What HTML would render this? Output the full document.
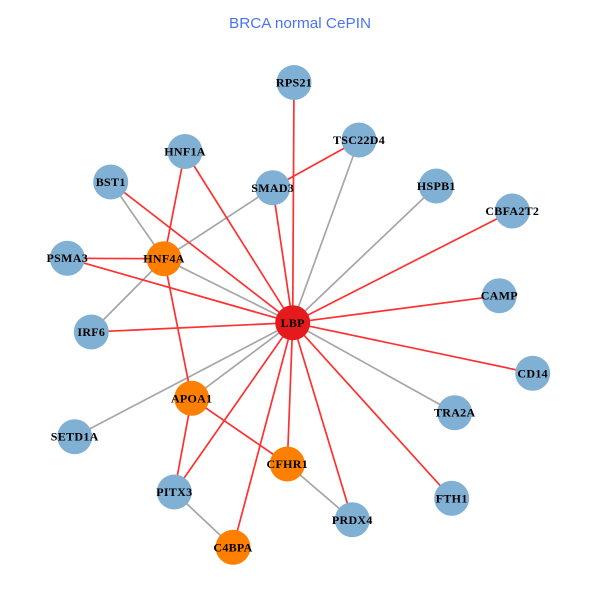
<!DOCTYPE html>
<html><head><meta charset="utf-8"><style>
html,body{margin:0;padding:0;background:#fff}
svg{display:block}
.t{font-family:"Liberation Serif",serif;font-weight:bold;font-size:12px;fill:#000;text-anchor:middle;letter-spacing:.3px}
</style></head><body>
<svg width="600" height="600" viewBox="0 0 600 600" xmlns="http://www.w3.org/2000/svg">
<rect width="600" height="600" fill="#fff"/>
<text x="229" y="28" font-family="'Liberation Sans',sans-serif" font-size="15" fill="#4a73f0" textLength="142" lengthAdjust="spacingAndGlyphs">BRCA normal CePIN</text>
<g stroke-width="1.7" fill="none">
<g stroke="#a6a6a6">
<line x1="292.7" y1="322.7" x2="359" y2="140"/>
<line x1="292.7" y1="322.7" x2="436.3" y2="186"/>
<line x1="292.7" y1="322.7" x2="454.7" y2="412.7"/>
<line x1="292.7" y1="322.7" x2="191.7" y2="398.3"/>
<line x1="292.7" y1="322.7" x2="74.7" y2="436.7"/>
<line x1="292.7" y1="322.7" x2="164" y2="258.7"/>
<line x1="110.7" y1="182" x2="164" y2="258.7"/>
<line x1="272.7" y1="187.7" x2="164" y2="258.7"/>
<line x1="91.3" y1="332" x2="164" y2="258.7"/>
<line x1="174.3" y1="492" x2="233" y2="547.3"/>
<line x1="287.3" y1="464" x2="352.3" y2="519.7"/>
</g>
<g stroke="#ff3030">
<line x1="292.7" y1="322.7" x2="294" y2="82.5"/>
<line x1="292.7" y1="322.7" x2="272.7" y2="187.7"/>
<line x1="292.7" y1="322.7" x2="512.3" y2="211"/>
<line x1="292.7" y1="322.7" x2="499.3" y2="295.7"/>
<line x1="292.7" y1="322.7" x2="532.7" y2="373.3"/>
<line x1="292.7" y1="322.7" x2="451.7" y2="498.3"/>
<line x1="292.7" y1="322.7" x2="352.3" y2="519.7"/>
<line x1="292.7" y1="322.7" x2="287.3" y2="464"/>
<line x1="292.7" y1="322.7" x2="233" y2="547.3"/>
<line x1="292.7" y1="322.7" x2="174.3" y2="492"/>
<line x1="292.7" y1="322.7" x2="91.3" y2="332"/>
<line x1="292.7" y1="322.7" x2="67.3" y2="258.3"/>
<line x1="292.7" y1="322.7" x2="110.7" y2="182"/>
<line x1="292.7" y1="322.7" x2="185" y2="151.5"/>
<line x1="185" y1="151.5" x2="164" y2="258.7"/>
<line x1="67.3" y1="258.3" x2="164" y2="258.7"/>
<line x1="164" y1="258.7" x2="191.7" y2="398.3"/>
<line x1="191.7" y1="398.3" x2="174.3" y2="492"/>
<line x1="191.7" y1="398.3" x2="287.3" y2="464"/>
<line x1="272.7" y1="187.7" x2="359" y2="140"/>
</g>
</g>
<g fill="#80b0d3">
<circle cx="294" cy="82.5" r="17.5"/>
<circle cx="185" cy="151.5" r="17.5"/>
<circle cx="110.7" cy="182" r="17.5"/>
<circle cx="272.7" cy="187.7" r="17.5"/>
<circle cx="359" cy="140" r="17.5"/>
<circle cx="436.3" cy="186" r="17.5"/>
<circle cx="512.3" cy="211" r="17.5"/>
<circle cx="499.3" cy="295.7" r="17.5"/>
<circle cx="67.3" cy="258.3" r="17.5"/>
<circle cx="91.3" cy="332" r="17.5"/>
<circle cx="74.7" cy="436.7" r="17.5"/>
<circle cx="174.3" cy="492" r="17.5"/>
<circle cx="532.7" cy="373.3" r="17.5"/>
<circle cx="454.7" cy="412.7" r="17.5"/>
<circle cx="451.7" cy="498.3" r="17.5"/>
<circle cx="352.3" cy="519.7" r="17.5"/>
</g>
<g fill="#ff7f00">
<circle cx="164" cy="258.7" r="17.5"/>
<circle cx="191.7" cy="398.3" r="17.5"/>
<circle cx="287.3" cy="464" r="17.5"/>
<circle cx="233" cy="547.3" r="17.5"/>
</g>
<circle cx="292.7" cy="322.7" r="17.5" fill="#e41a1c"/>
<g class="labels">
<text class="t" x="294" y="86.5">RPS21</text>
<text class="t" x="185" y="155.5">HNF1A</text>
<text class="t" x="110.7" y="186">BST1</text>
<text class="t" x="272.7" y="192">SMAD3</text>
<text class="t" x="359" y="144">TSC22D4</text>
<text class="t" x="436.3" y="190">HSPB1</text>
<text class="t" x="512.3" y="215">CBFA2T2</text>
<text class="t" x="499.3" y="299.5">CAMP</text>
<text class="t" x="67.3" y="262">PSMA3</text>
<text class="t" x="164" y="262.5">HNF4A</text>
<text class="t" x="292.7" y="327">LBP</text>
<text class="t" x="91.3" y="336">IRF6</text>
<text class="t" x="191.7" y="402.5">APOA1</text>
<text class="t" x="74.7" y="440.5">SETD1A</text>
<text class="t" x="174.3" y="496">PITX3</text>
<text class="t" x="287.3" y="468">CFHR1</text>
<text class="t" x="233" y="551.5">C4BPA</text>
<text class="t" x="532.7" y="377.5">CD14</text>
<text class="t" x="454.7" y="416.5">TRA2A</text>
<text class="t" x="451.7" y="502.5">FTH1</text>
<text class="t" x="352.3" y="524">PRDX4</text>
</g>
</svg>
</body></html>
